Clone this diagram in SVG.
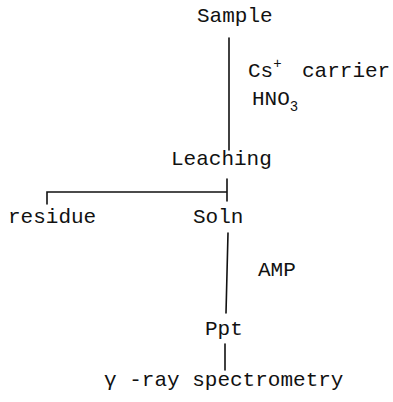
<svg xmlns="http://www.w3.org/2000/svg" width="393" height="402" viewBox="0 0 393 402">
<style>
text{font-family:"Liberation Mono","DejaVu Sans Mono",monospace;font-size:21px;fill:#111}
.ln{stroke:#111;stroke-width:1.6;fill:none;stroke-linecap:round}
.sm{font-size:14px}
</style>
<rect width="393" height="402" fill="#fff"/>
<g id="connectors">
<path class="ln" d="M229 38V150"/>
<path class="ln" d="M47 204V192H227M227 179V201"/>
<path class="ln" d="M228 233L226 313"/>
<path class="ln" d="M225 344V370"/>
</g>
<g id="label-reagents">
<text x="248" y="77">Cs<tspan class="sm" dy="-9">+</tspan><tspan dy="9" x="302">carrier</tspan></text>
<text x="252" y="105">HNO<tspan class="sm" dy="6">3</tspan></text>
</g>
<g id="label-amp"><text x="258" y="276">AMP</text></g>
<g id="node-sample"><text x="197" y="22">Sample</text></g>
<g id="node-leaching"><text x="171" y="165">Leaching</text></g>
<g id="node-residue"><text x="8" y="223">residue</text></g>
<g id="node-soln"><text x="193" y="223">Soln</text></g>
<g id="node-ppt"><text x="205" y="335">Ppt</text></g>
<g id="node-spectrometry"><text x="104" y="386">γ -ray spectrometry</text></g>
</svg>
